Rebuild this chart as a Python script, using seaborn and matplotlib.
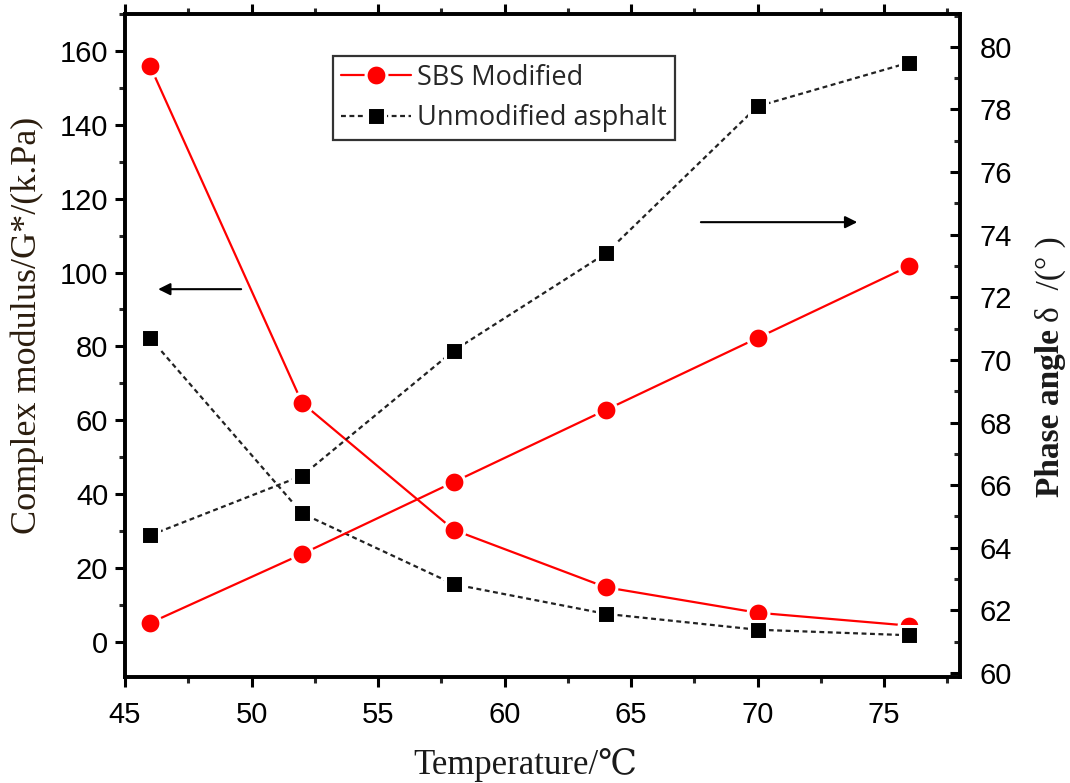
import pandas as pd
import seaborn as sns
import numpy as np
import matplotlib.pyplot as plt
from matplotlib.ticker import MultipleLocator

temperature = [46, 52, 58, 64, 70, 76]
modulus_sbs = [155.8, 64.7, 30.3, 14.8, 7.9, 4.4]
modulus_base = [82.2, 34.8, 15.6, 7.6, 3.3, 1.8]
phase_sbs = [61.6, 63.8, 66.1, 68.4, 70.7, 73.0]
phase_base = [64.4, 66.3, 70.3, 73.4, 78.1, 79.5]

df = pd.DataFrame({
    'temperature': temperature,
    'modulus_sbs': modulus_sbs,
    'modulus_base': modulus_base,
    'phase_sbs': phase_sbs,
    'phase_base': phase_base,
})

sns.set_theme(style='ticks')
plt.rcParams['font.family'] = ['Liberation Sans', 'DejaVu Sans']

fig, ax = plt.subplots(figsize=(10.7, 7.83), dpi=100)
fig.subplots_adjust(left=125/1070, right=960/1070, top=1-14/783, bottom=1-677/783)
ax2 = ax.twinx()

sbs_style = dict(color='#ff0000', marker='o', markersize=15, markeredgecolor='white',
                 markeredgewidth=2.2, linewidth=1.6)
base_style = dict(color='#222222', marker='s', markersize=13, markeredgecolor='white',
                  markeredgewidth=2.2, markerfacecolor='black', linewidth=1.6,
                  linestyle=(0, (2.2, 1.6)))

sns.lineplot(data=df, x='temperature', y='modulus_sbs', ax=ax, label='SBS Modified', **sbs_style)
sns.lineplot(data=df, x='temperature', y='modulus_base', ax=ax, label='Unmodified asphalt', **base_style)
sns.lineplot(data=df, x='temperature', y='phase_sbs', ax=ax2, **sbs_style)
sns.lineplot(data=df, x='temperature', y='phase_base', ax=ax2, **base_style)

ax.set_xlim(45, 78)
ax.set_ylim(-9.5, 170)
ax2.set_ylim(59.87, 81.05)

ax.xaxis.set_major_locator(MultipleLocator(5))
ax.xaxis.set_minor_locator(MultipleLocator(2.5))
ax.yaxis.set_minor_locator(MultipleLocator(10))
ax2.yaxis.set_minor_locator(MultipleLocator(1))
ax.set_yticks(range(0, 161, 20))
ax2.set_yticks(range(60, 81, 2))

for a in (ax, ax2):
    for s in a.spines.values():
        s.set_linewidth(2.6)
        s.set_color('black')
        s.set_visible(True)

ax.tick_params(axis='both', which='major', direction='out', length=7, width=2.2,
               labelsize=21, colors='black', pad=5)
ax.tick_params(axis='both', which='minor', direction='out', length=4, width=2.2)
ax.tick_params(axis='x', which='both', top=True)
ax.tick_params(axis='x', which='major', pad=10)
ax2.tick_params(axis='y', which='major', direction='in', length=7, width=2.2,
                labelsize=21, colors='black', pad=14)
ax2.tick_params(axis='y', which='minor', direction='in', length=4, width=2.2)

ax.set_xlabel('')
ax.set_ylabel('')
ax2.set_ylabel('')

serif = ['Liberation Serif', 'DejaVu Serif']
fig.text(525/1070, 1/783, 'Temperature/\u2103', ha='center', va='bottom',
         fontsize=25, family=serif, color='#1a1a1a')
fig.text(27/1070, 1-325/783, 'Complex modulus/G*/(k.Pa)', rotation=90, ha='center',
         va='center', fontsize=26, family=serif, color='#2b1d0e')
fig.text(1050/1070, 1-497/783, 'Phase angle', rotation=90, ha='center', va='bottom',
         fontsize=24, family=serif, weight='bold', color='#1a1a1a')
fig.text(1050/1070, 1-322/783, '\u03b4  /(\u00b0 )', rotation=90, ha='center', va='bottom',
         fontsize=24, family=serif, color='#1a1a1a')

# direction arrows
ax.annotate('', xy=(46.2, 95.5), xytext=(49.7, 95.5),
            arrowprops=dict(arrowstyle='-|>', color='black', lw=1.5, mutation_scale=18))
ax2.annotate('', xy=(74.05, 74.4), xytext=(67.65, 74.4),
             arrowprops=dict(arrowstyle='-|>', color='black', lw=1.5, mutation_scale=18))

ax.get_legend().remove()
handles, labels = ax.get_legend_handles_labels()
leg = ax2.legend(handles, labels, loc='upper left', bbox_to_anchor=(0.249, 0.937),
                 frameon=True, fancybox=False, handlelength=2.6,
                 borderpad=0.3, labelspacing=0.45, handletextpad=0.2, borderaxespad=0,
                 prop={'family': ['Open Sans', 'DejaVu Sans'], 'size': 19.5})
leg.get_frame().set_edgecolor('black')
leg.get_frame().set_linewidth(1.6)

fig.savefig('out.png', dpi=100)
